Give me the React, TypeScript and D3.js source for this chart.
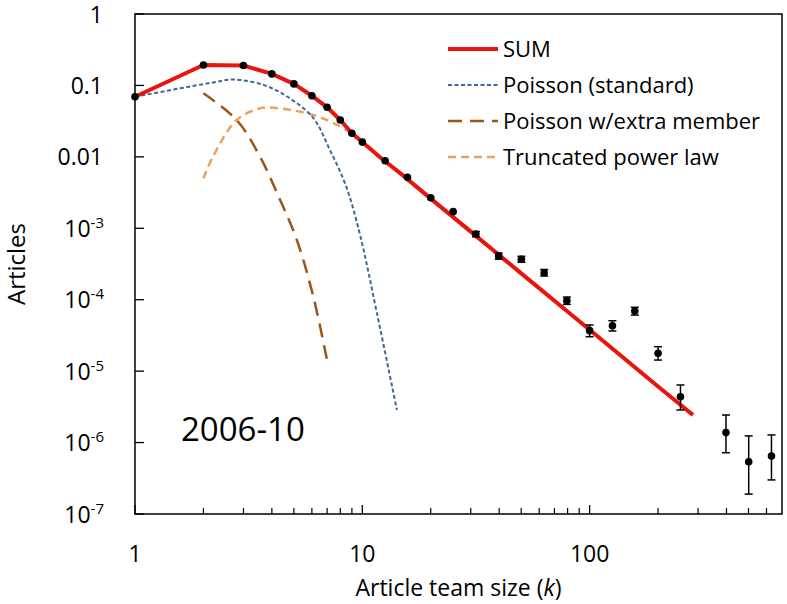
import React from "react";
import * as d3 from "d3";

// Observed data (team size k, fraction of articles)
const obsK = [1, 2, 3, 4, 5, 6, 7, 8, 9, 10, 12.6, 15.8, 20, 25.1, 31.6, 39.8, 50.1, 63.1, 79.4, 100, 126, 158, 200, 251, 398, 501, 631];
const obsV = [0.0695, 0.193, 0.19, 0.145, 0.105, 0.0718, 0.0494, 0.0328, 0.0214, 0.0161, 0.00883, 0.00518, 0.00268, 0.00171, 0.00083, 0.00041, 0.000368, 0.000239, 0.000097, 0.0000369, 0.0000433, 0.0000695, 0.0000178, 0.00000439, 0.00000138, 0.00000054, 0.00000065];
const errLow: (number | null)[] = [null, null, null, null, null, null, null, null, null, null, null, null, null, null, 7.6e-4, 3.7e-4, 3.35e-4, 2.15e-4, 8.6e-5, 3.03e-5, 3.65e-5, 6.1e-5, 1.43e-5, 2.86e-6, 7.2e-7, 1.9e-7, 3.0e-7];
const errHigh: (number | null)[] = [null, null, null, null, null, null, null, null, null, null, null, null, null, null, 9.0e-4, 4.5e-4, 4.05e-4, 2.65e-4, 1.09e-4, 4.43e-5, 5.08e-5, 7.83e-5, 2.2e-5, 6.4e-6, 2.43e-6, 1.24e-6, 1.28e-6];

// SUM model
const sumK = [1, 2, 3, 4, 5, 6, 7, 8, 9, 10, 12, 15, 20, 30, 50, 100, 200, 285];
const sumV = [0.0695, 0.193, 0.19, 0.145, 0.105, 0.0718, 0.0494, 0.0328, 0.0214, 0.0161, 0.0098, 0.0056, 0.0026, 0.000897, 0.000234, 0.0000379, 0.0000061, 0.00000243];

// Poisson (standard)
const poisK = [1, 1.58, 2.2, 2.7, 3.7, 4.8, 6.1, 7.2, 8.5, 9.8, 11.6, 14.2];
const poisV = [0.0695, 0.091, 0.11, 0.121, 0.101, 0.066, 0.0347, 0.0125, 0.00382, 0.00078, 0.0000645, 0.00000286];

// Poisson with extra member
const poisExK = [2, 2.8, 3.55, 4.35, 5.15, 6.09, 7.09];
const poisExV = [0.0776, 0.0328, 0.01, 0.00249, 0.00069, 0.00011, 0.0000115];

// Truncated power law
const tplK = [2, 2.2, 2.8, 3.55, 3.9, 4.8, 6.1, 7.5, 9.5, 12, 15, 20, 30, 50, 100, 200, 285];
const tplV = [0.005, 0.01, 0.0328, 0.0478, 0.049, 0.0455, 0.0386, 0.0295, 0.0188, 0.0096, 0.0055, 0.00258, 0.000893, 0.000233, 0.0000378, 0.0000061, 0.00000243];

const xMajor = [1, 10, 100];
const xMinor = [2, 3, 4, 5, 6, 7, 8, 9, 20, 30, 40, 50, 60, 70, 80, 90, 200, 300, 400, 500, 600];
const yExps = [0, -1, -2, -3, -4, -5, -6, -7];
const yPlainLabels: Record<number, string> = { 0: "1", [-1]: "0.1", [-2]: "0.01" };

const legendItems = [
  { label: "SUM", color: "#e8150f", width: 4, dash: "" },
  { label: "Poisson (standard)", color: "#41679a", width: 2, dash: "4,2.5" },
  { label: "Poisson w/extra member", color: "#9c5518", width: 2.5, dash: "14,8" },
  { label: "Truncated power law", color: "#f0a05c", width: 2.5, dash: "8,5" },
];

const FONT = "'Open Sans', 'Noto Sans', sans-serif";

export default function App() {
  const W = 787, H = 604;
  const L = 135, R = 782, T = 14, B = 514;
  const x = d3.scaleLog().domain([1, 702]).range([L, R]);
  const y = d3.scaleLog().domain([1e-7, 1]).range([B, T]);

  const mk = (ks: number[], vs: number[], curve: d3.CurveFactory) =>
    d3.line<number>().x((_, i) => x(ks[i])).y((_, i) => y(vs[i])).curve(curve)(ks) || "";

  const smooth = d3.curveCatmullRom.alpha(0.5);
  const sumPath = mk(sumK, sumV, d3.curveLinear);
  const poisPath = mk(poisK, poisV, smooth);
  const poisExPath = mk(poisExK, poisExV, smooth);
  const tplPath = mk(tplK, tplV, smooth);

  return (
    <svg width={W} height={H} style={{ position: "absolute", left: 0, top: 0, background: "#fff" }} fontFamily={FONT}>
      <rect x={0} y={0} width={W} height={H} fill="#fff" />
      {/* curves */}
      <path d={tplPath} fill="none" stroke="#f0a05c" strokeWidth={2.5} strokeDasharray="8,5" />
      <path d={poisExPath} fill="none" stroke="#9c5518" strokeWidth={2.5} strokeDasharray="14,8" />
      <path d={poisPath} fill="none" stroke="#41679a" strokeWidth={2} strokeDasharray="4,2.5" />
      <path d={sumPath} fill="none" stroke="#e8150f" strokeWidth={4} strokeLinejoin="round" />

      {/* error bars */}
      {obsK.map((k, i) =>
        errLow[i] != null && errHigh[i] != null ? (
          <g key={"e" + i} stroke="#000" strokeWidth={1.5}>
            <line x1={x(k)} x2={x(k)} y1={y(errLow[i] as number)} y2={y(errHigh[i] as number)} />
            <line x1={x(k) - 4} x2={x(k) + 4} y1={y(errLow[i] as number)} y2={y(errLow[i] as number)} />
            <line x1={x(k) - 4} x2={x(k) + 4} y1={y(errHigh[i] as number)} y2={y(errHigh[i] as number)} />
          </g>
        ) : null
      )}
      {/* points */}
      {obsK.map((k, i) => (
        <circle key={"p" + i} cx={x(k)} cy={y(obsV[i])} r={3.8} fill="#000" />
      ))}

      {/* frame */}
      <rect x={L} y={T} width={R - L} height={B - T} fill="none" stroke="#000" strokeWidth={1.5} />

      {/* x ticks */}
      {xMajor.map((t) => (
        <g key={"xm" + t}>
          <line x1={x(t)} x2={x(t)} y1={B} y2={B - 9} stroke="#000" strokeWidth={1.3} />
          <text x={x(t)} y={562} textAnchor="middle" fontSize={23} fill="#000">{t}</text>
        </g>
      ))}
      {xMinor.map((t) => (
        <line key={"xn" + t} x1={x(t)} x2={x(t)} y1={B} y2={B - 6} stroke="#000" strokeWidth={1.2} />
      ))}

      {/* y ticks */}
      {yExps.map((e) => {
        const yy = y(Math.pow(10, e));
        return (
          <g key={"y" + e}>
            <line x1={L} x2={L + 9} y1={yy} y2={yy} stroke="#000" strokeWidth={1.3} />
            {yPlainLabels[e] !== undefined ? (
              <text x={103} y={yy + 8.5} textAnchor="end" fontSize={23} fill="#000">{yPlainLabels[e]}</text>
            ) : (
              <text x={104} y={yy + 8.5} textAnchor="end" fontSize={23} fill="#000">
                10<tspan dy={-9} fontSize={15}>{String(e)}</tspan>
              </text>
            )}
          </g>
        );
      })}

      {/* axis titles */}
      <text x={(L + R) / 2} y={596} textAnchor="middle" fontSize={23} fill="#000">
        Article team size (<tspan fontStyle="italic">k</tspan>)
      </text>
      <text transform={`translate(25,${(T + B) / 2}) rotate(-90)`} textAnchor="middle" fontSize={24} fill="#000">Articles</text>

      {/* year label */}
      <text x={181} y={441} fontSize={33} fill="#000">2006-10</text>

      {/* legend */}
      {legendItems.map((it, i) => {
        const cy = 49 + i * 36;
        return (
          <g key={"l" + i}>
            <line x1={448} x2={498} y1={cy} y2={cy} stroke={it.color} strokeWidth={it.width} strokeDasharray={it.dash || undefined} />
            <text x={503} y={cy + 8} fontSize={22} fill="#000">{it.label}</text>
          </g>
        );
      })}
    </svg>
  );
}
